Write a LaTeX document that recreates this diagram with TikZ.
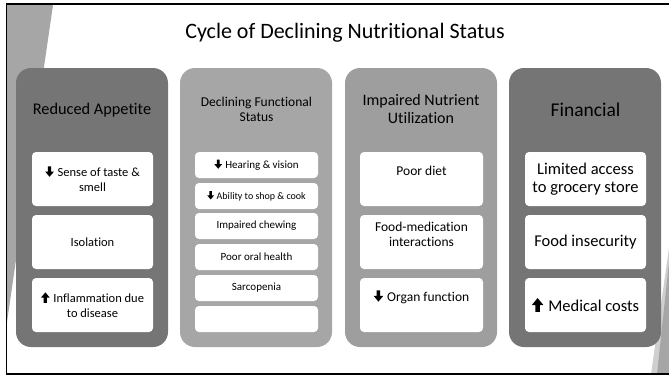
\documentclass[tikz,border=0pt]{standalone}
\usepackage{fontspec}
\setmainfont{Carlito}[Ligatures=NoCommon]
\definecolor{panelDark}{HTML}{757575}
\definecolor{panelLight}{HTML}{A6A6A6}
\definecolor{panelMid}{HTML}{9E9E9E}
\definecolor{accentGray}{HTML}{A6A6A6}
\definecolor{accentLight}{HTML}{CFCFCF}

% heavy down / up arrows set inline with the text
\newcommand{\dnarr}{\tikz[baseline=0pt,x=1em,y=1em]\fill[black,draw=none,sharp corners]
  (-0.13,0.82)--(0.13,0.82)--(0.13,0.4)--(0.35,0.4)--(0,-0.02)--(-0.35,0.4)--(-0.13,0.4)--cycle;}
\newcommand{\uparr}{\tikz[baseline=0pt,x=1em,y=1em]\fill[black,draw=none,sharp corners]
  (-0.13,-0.02)--(0.13,-0.02)--(0.13,0.4)--(0.35,0.4)--(0,0.82)--(-0.35,0.4)--(-0.13,0.4)--cycle;}

\tikzset{
  panel/.style={draw=none, rounded corners=15pt, inner sep=0pt, outer sep=0pt,
    minimum width=152pt, minimum height=279pt, anchor=north west},
  itembox/.style={fill=white, draw=none, rounded corners=4pt, inner sep=0pt, outer sep=0pt,
    anchor=north west},
  bigitem/.style={itembox, minimum height=54pt},
  smallitem/.style={itembox, minimum width=123pt, minimum height=26pt},
  label/.style={inner sep=0pt, align=center, text=black},
  fsA/.style={font=\fontsize{12.5}{15}\selectfont},
  fsB/.style={font=\fontsize{11}{13}\selectfont},
  fsC/.style={font=\fontsize{13.5}{15}\selectfont},
  fsD/.style={font=\fontsize{16.5}{18}\selectfont},
}

\begin{document}
\begin{tikzpicture}[x=1pt,y=-1pt]
\useasboundingbox (0,0) rectangle (669,378);

% corner accents
\fill[accentGray] (7,5) -- (53,5) -- (7,322) -- cycle;
\fill[accentLight] (651,374) -- (669,248) -- (669,374) -- cycle;
\fill[accentGray] (657,374) -- (669,262) -- (669,374) -- cycle;

% frame
\draw[black, line width=1.8pt] (669,4) -- (6.5,4) -- (6.5,374) -- (669,374);

% title
\node[label, font=\fontsize{22}{26}\selectfont] (title) at (345,33) {Cycle of Declining Nutritional Status};

% columns
\node[panel, fill=panelDark]  (p1) at (16,68)  {};
\node[panel, fill=panelLight] (p2) at (180,68) {};
\node[panel, fill=panelMid]   (p3) at (345,68) {};
\node[panel, fill=panelDark]  (p4) at (509,68) {};

% column headings
\node[label, font=\fontsize{16.3}{18}\selectfont] (h1) at (92,110) {Reduced Appetite};
\node[label, font=\fontsize{13.5}{15}\selectfont] (h2) at (256.5,109.5) {Declining Functional\\Status};
\node[label, font=\fontsize{16}{18}\selectfont] (h3) at (421,109) {Impaired Nutrient\\Utilization};
\node[label, font=\fontsize{19.5}{22}\selectfont] (h4) at (585.5,110) {Financial};

% Reduced Appetite
\node[bigitem, minimum width=121pt] (a1) at (32,152) {};
\node[bigitem, minimum width=121pt] (a2) at (32,215) {};
\node[bigitem, minimum width=121pt] (a3) at (32,278) {};
\node[label, fsA] (a1t) at (a1.center) {\dnarr\hspace{0.3em}Sense of taste \&\\smell};
\node[label, fsA] (a2t) at (a2.center) {Isolation};
\node[label, fsA] (a3t) at (a3.center) {\uparr\hspace{0.3em}Inflammation due\\to disease};

% Declining Functional Status
\node[smallitem] (b1) at (195,152) {};
\node[smallitem] (b2) at (195,183) {};
\node[smallitem] (b3) at (195,213) {};
\node[smallitem] (b4) at (195,244) {};
\node[smallitem] (b5) at (195,275) {};
\node[smallitem] (b6) at (195,306) {};
\node[label, fsB] (b1t) at (b1.center) {\dnarr\hspace{0.3em}Hearing \& vision};
\node[label, font=\fontsize{10}{12}\selectfont] (b2t) at (b2.center) {\dnarr\hspace{0.25em}Ability to shop \& cook};
\node[label, fsB] (b3t) at (b3.center) {Impaired chewing};
\node[label, fsB] (b4t) at (b4.center) {Poor oral health};
\node[label, fsB] (b5t) at (b5.center) {Sarcopenia};

% Impaired Nutrient Utilization
\node[bigitem, minimum width=123pt] (c1) at (360,152) {};
\node[bigitem, minimum width=123pt] (c2) at (360,215) {};
\node[bigitem, minimum width=123pt] (c3) at (360,278) {};
\node[label, fsC] (c1t) at (421.5,171) {Poor diet};
\node[label, fsC] (c2t) at (421.5,234.5) {Food-medication\\interactions};
\node[label, fsC] (c3t) at (421.5,297) {\dnarr\hspace{0.3em}Organ function};

% Financial
\node[bigitem, minimum width=121pt] (d1) at (525,152) {};
\node[bigitem, minimum width=121pt] (d2) at (525,215) {};
\node[bigitem, minimum width=121pt] (d3) at (525,278) {};
\node[label, fsD] (d1t) at (d1.center) {Limited access\\to grocery store};
\node[label, fsD] (d2t) at (d2.center) {Food insecurity};
\node[label, fsD] (d3t) at (d3.center) {\uparr\hspace{0.3em}Medical costs};
\end{tikzpicture}
\end{document}
